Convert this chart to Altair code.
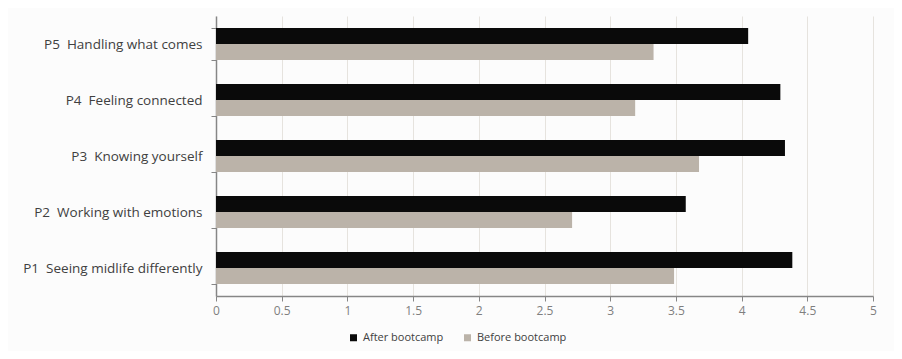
import altair as alt
import pandas as pd

categories = [
    "P5\u00a0 Handling what comes",
    "P4\u00a0 Feeling connected",
    "P3\u00a0 Knowing yourself",
    "P2\u00a0 Working with emotions",
    "P1\u00a0 Seeing midlife differently",
]
after = [4.05, 4.295, 4.33, 3.575, 4.386]
before = [3.33, 3.19, 3.676, 2.71, 3.486]
series = ["After bootcamp", "Before bootcamp"]
colors = ["#0a0a0a", "#bbb3a9"]
ticks = [0, 0.5, 1, 1.5, 2, 2.5, 3, 3.5, 4, 4.5, 5]

rows = []
for c, a, b in zip(categories, after, before):
    rows.append({"category": c, "series": series[0], "value": a})
    rows.append({"category": c, "series": series[1], "value": b})
df = pd.DataFrame(rows)

FONT = "Open Sans"

chart = (
    alt.Chart(df)
    .mark_bar()
    .encode(
        x=alt.X(
            "value:Q",
            scale=alt.Scale(domain=[0, 5], nice=False),
            axis=alt.Axis(
                values=ticks,
                title=None,
                format="~g",
                grid=True,
                gridColor="#e6e3de",
                gridWidth=1,
                domainColor="#868686",
                domainWidth=1.5,
                tickColor="#868686",
                tickSize=5,
                labelColor="#7f7f7f",
                labelFont=FONT,
                labelFontSize=12,
                labelPadding=4,
                labelFlush=False,
            ),
        ),
        y=alt.Y(
            "category:N",
            sort=categories,
            scale=alt.Scale(paddingInner=0.43, paddingOuter=0.215),
            axis=alt.Axis(
                title=None,
                tickBand="extent",
                grid=False,
                domainColor="#868686",
                domainWidth=1.5,
                tickColor="#868686",
                tickSize=5,
                labelColor="#404040",
                labelFont=FONT,
                labelFontSize=13.5,
                labelPadding=9,
                labelLimit=300,
            ),
        ),
        yOffset=alt.YOffset("series:N", sort=series),
        color=alt.Color(
            "series:N",
            scale=alt.Scale(domain=series, range=colors),
            legend=alt.Legend(
                orient="none",
                legendX=132,
                legendY=316,
                direction="horizontal",
                title=None,
                symbolType="square",
                symbolSize=49,
                symbolStrokeWidth=0,
                labelFont=FONT,
                labelFontSize=11,
                labelColor="#404040",
                labelOffset=4,
                columnPadding=18,
            ),
        ),
    )
    .properties(
        width=657,
        height=280,
        background="#fcfcfc",
        padding={"left": 208, "top": 8, "right": 21, "bottom": 55},
        autosize=alt.AutoSizeParams(type="none"),
    )
    .configure_view(stroke=None)
)

chart.save("out.html", embed_options={"renderer": "svg", "actions": False})
